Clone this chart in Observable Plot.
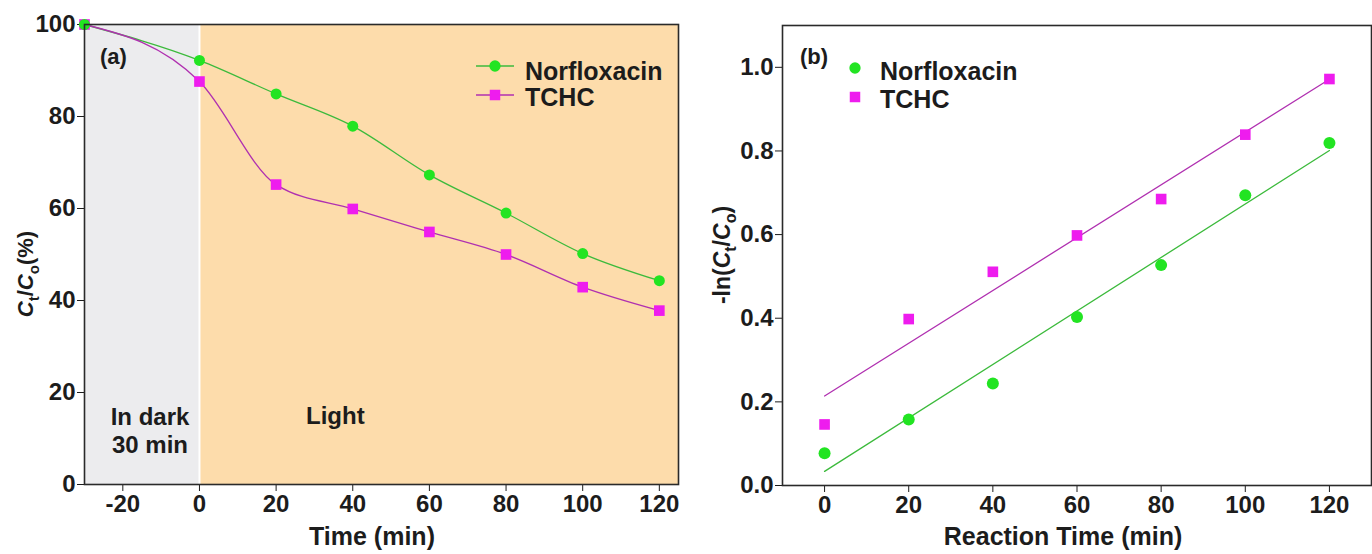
<!DOCTYPE html>
<html><head><meta charset="utf-8">
<script src="https://cdn.jsdelivr.net/npm/d3@7"></script>
<script src="https://cdn.jsdelivr.net/npm/@observablehq/plot@0.6"></script>
<style>
body{margin:0;background:#fff;}
#wrap{position:relative;width:1372px;height:554px;font-family:"Liberation Sans",Arial,sans-serif;}
#a{position:absolute;left:0;top:0}
#b{position:absolute;left:690px;top:0}
svg text{font-family:"Liberation Sans",Arial,sans-serif;}
</style></head><body><div id="wrap"><div id="a"></div><div id="b"></div></div>
<script>
// ---- data ----
const timeA = [-30, 0, 20, 40, 60, 80, 100, 120];
const norfloxacinA = [100, 92.2, 84.9, 77.9, 67.3, 59.0, 50.2, 44.3];
const tchcA = [100, 87.6, 65.2, 59.9, 54.9, 50.0, 42.9, 37.8];
const timeB = [0, 20, 40, 60, 80, 100, 120];
const norfloxacinB = [0.077, 0.158, 0.244, 0.403, 0.527, 0.694, 0.819];
const tchcB = [0.146, 0.398, 0.511, 0.598, 0.685, 0.839, 0.972];
const ticksAX = [-20, 0, 20, 40, 60, 80, 100, 120];
const ticksAY = [0, 20, 40, 60, 80, 100];
const ticksBX = [0, 20, 40, 60, 80, 100, 120];
const ticksBY = [0, 0.2, 0.4, 0.6, 0.8, 1.0];
const phases = [{name: "dark", start: -30, end: 0}, {name: "light", start: 0, end: 125}];
const seriesNames = ["Norfloxacin", "TCHC"];

// ---- styles ----
const GREEN_LINE = "#3cba3c", GREEN_DOT = "#22e422";
const MAG_LINE = "#b030b0", MAG_DOT = "#ee1cee";
const FONT = '"Liberation Sans", Arial, sans-serif';

const rowsNA = timeA.map((t, i) => ({t, v: norfloxacinA[i]}));
const rowsTA = timeA.map((t, i) => ({t, v: tchcA[i]}));
const rowsNB = timeB.map((t, i) => ({t, v: norfloxacinB[i]}));
const rowsTB = timeB.map((t, i) => ({t, v: tchcB[i]}));

const hyphen = d => (d < 0 ? "-" + Math.abs(d) : String(d));
const baseStyle = {fontFamily: FONT, fontSize: "24px", fontWeight: "bold", color: "#1c1c1c", background: "transparent", overflow: "visible"};

const plotA = Plot.plot({
  width: 690, height: 554,
  marginLeft: 84, marginRight: 12, marginTop: 24, marginBottom: 70,
  style: baseStyle,
  x: {domain: [-30, 125], ticks: ticksAX, tickSize: 7, tickPadding: 3, tickFormat: hyphen, label: null},
  y: {domain: [0, 100], ticks: ticksAY, tickSize: 7, tickPadding: 2, label: null},
  marks: [
    Plot.rect(phases.filter(d => d.name === "dark"), {x1: "start", x2: "end", y1: 0, y2: 100, fill: "#ececee"}),
    Plot.rect(phases.filter(d => d.name === "light"), {x1: "start", x2: "end", y1: 0, y2: 100, fill: "#fddcab"}),
    Plot.ruleX(phases.filter(d => d.name === "light"), {x: "start", stroke: "#ffffff", strokeWidth: 2}),
    Plot.line(rowsNA, {x: "t", y: "v", stroke: GREEN_LINE, strokeWidth: 1.3, curve: "monotone-x"}),
    Plot.line(rowsTA, {x: "t", y: "v", stroke: MAG_LINE, strokeWidth: 1.3, curve: "monotone-x"}),
    Plot.dot(rowsTA, {x: "t", y: "v", symbol: "square", r: 6, fill: MAG_DOT}),
    Plot.dot(rowsNA, {x: "t", y: "v", symbol: "circle", r: 5.5, fill: GREEN_DOT}),
    Plot.frame({stroke: "#2a2a2a", strokeWidth: 1.6})
  ]
});
document.getElementById("a").appendChild(plotA);

const plotB = Plot.plot({
  width: 682, height: 554,
  marginLeft: 92, marginRight: 1, marginTop: 25, marginBottom: 69,
  style: baseStyle,
  x: {domain: [-10, 130], ticks: ticksBX, tickSize: 7, tickPadding: 3, label: null},
  y: {domain: [0, 1.1], ticks: ticksBY, tickSize: 7, tickPadding: 2, tickFormat: d3.format(".1f"), label: null},
  marks: [
    Plot.linearRegressionY(rowsNB, {x: "t", y: "v", stroke: GREEN_LINE, strokeWidth: 1.3, ci: 0}),
    Plot.linearRegressionY(rowsTB, {x: "t", y: "v", stroke: MAG_LINE, strokeWidth: 1.3, ci: 0}),
    Plot.dot(rowsTB, {x: "t", y: "v", symbol: "square", r: 6, fill: MAG_DOT}),
    Plot.dot(rowsNB, {x: "t", y: "v", symbol: "circle", r: 6, fill: GREEN_DOT}),
    Plot.frame({stroke: "#2a2a2a", strokeWidth: 1.6})
  ]
});
document.getElementById("b").appendChild(plotB);

// ---- annotations ----
function txt(svg, x, y, s, opts = {}) {
  return d3.select(svg).append("text")
    .attr("x", x).attr("y", y)
    .attr("text-anchor", opts.anchor || "start")
    .attr("font-size", opts.size || 24)
    .attr("font-weight", "bold")
    .attr("fill", "#1c1c1c")
    .text(s);
}
function subLabel(svg, x, y, parts, size) {
  const t = d3.select(svg).append("text")
    .attr("transform", `translate(${x},${y}) rotate(-90)`)
    .attr("text-anchor", "middle")
    .attr("font-size", size).attr("font-weight", "bold").attr("fill", "#1c1c1c");
  parts.forEach(p => {
    const ts = t.append("tspan").text(p.s);
    if (p.i) ts.attr("font-style", "italic");
    if (p.sub) ts.attr("font-size", Math.round(size * 0.7)).attr("dy", 6);
    if (p.back) ts.attr("dy", -6);
  });
}
// Panel a
txt(plotA, 100, 64, "(a)", {size: 22});
txt(plotA, 150, 425, "In dark", {anchor: "middle"});
txt(plotA, 150, 453, "30 min", {anchor: "middle"});
txt(plotA, 306, 424, "Light");
txt(plotA, 372, 545, "Time (min)", {anchor: "middle", size: 25});
subLabel(plotA, 33, 274, [{s: "C", i: true}, {s: "t", sub: true}, {s: "/", back: true}, {s: "C", i: true}, {s: "o", sub: true}, {s: "(%)", back: true}], 22);
// legend a
const legA = d3.select(plotA).append("g");
[[seriesNames[0], 66, 80, GREEN_LINE, GREEN_DOT, d3.symbolCircle, 100], [seriesNames[1], 95, 106, MAG_LINE, MAG_DOT, d3.symbolSquare, 110]].forEach(([name, ly, ty, lc, dc, sym, size]) => {
  legA.append("line").attr("x1", 476).attr("x2", 514).attr("y1", ly).attr("y2", ly).attr("stroke", lc).attr("stroke-width", 1.5);
  legA.append("path").attr("d", d3.symbol(sym, size)()).attr("transform", `translate(495,${ly})`).attr("fill", dc);
  txt(plotA, 525, ty, name, {size: 25});
});
// Panel b
txt(plotB, 110, 64, "(b)", {size: 22});
txt(plotB, 373, 545, "Reaction Time (min)", {anchor: "middle", size: 25});
subLabel(plotB, 40, 255, [{s: "-ln("}, {s: "C", i: true}, {s: "t", sub: true}, {s: "/", back: true}, {s: "C", i: true}, {s: "o", sub: true}, {s: ")", back: true}], 23);
const legB = d3.select(plotB).append("g");
[[seriesNames[0], 68, 80, GREEN_DOT, d3.symbolCircle, 100], [seriesNames[1], 97, 108, MAG_DOT, d3.symbolSquare, 110]].forEach(([name, ly, ty, dc, sym, size]) => {
  legB.append("path").attr("d", d3.symbol(sym, size)()).attr("transform", `translate(165,${ly})`).attr("fill", dc);
  txt(plotB, 190, ty, name, {size: 25});
});
</script></body></html>
